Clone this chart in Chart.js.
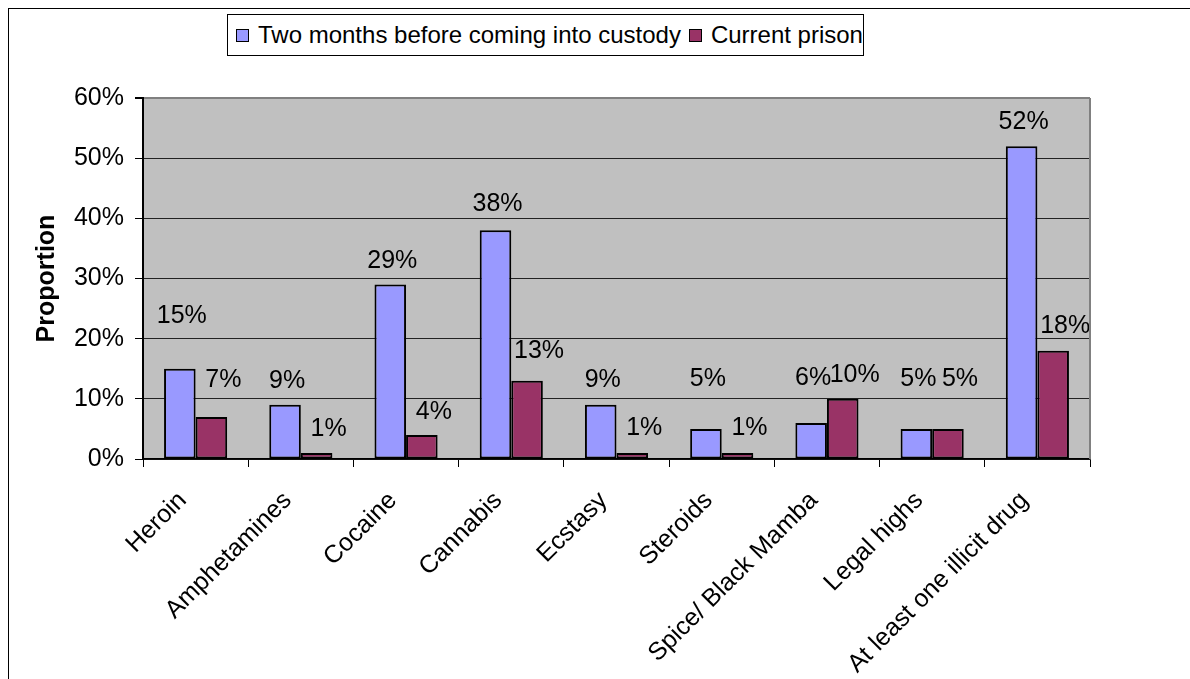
<!DOCTYPE html>
<html>
<head>
<meta charset="utf-8">
<script src="https://cdn.jsdelivr.net/npm/chart.js@4.4.1/dist/chart.umd.min.js"></script>
<style>
    html, body { margin: 0; padding: 0; background: #fff; }
    body { width: 1190px; height: 679px; position: relative; overflow: hidden; font-family: "Liberation Sans", Arial, sans-serif; }
    #frame { position: absolute; left: 8px; top: 8px; width: 1300px; height: 800px; border-left: 1px solid #000; border-top: 1px solid #000; pointer-events: none; }
    #chartWrap { position: absolute; left: 0; top: 0; width: 1190px; height: 679px; }
    #legend { position: absolute; left: 227px; top: 14px; width: 637px; height: 42px; border: 1px solid #000; background: #fff; box-sizing: border-box; display: flex; align-items: center; padding-left: 8px; font-size: 24px; color: #000; white-space: nowrap; }
    .legend-item { display: flex; align-items: center; margin-right: 8px; }
    .legend-box { width: 11px; height: 11px; border: 1px solid #000; margin-right: 9px; }
</style>
</head>
<body>
<div id="chartWrap"><canvas id="mainChart" width="1190" height="679"></canvas></div>
<div id="legend"></div>
<div id="frame"></div>
<script>
const categories = ['Heroin', 'Amphetamines', 'Cocaine', 'Cannabis', 'Ecstasy', 'Steroids', 'Spice/ Black Mamba', 'Legal highs', 'At least one illicit drug'];
const beforeCustody = [15, 9, 29, 38, 9, 5, 6, 5, 52];
const currentPrison = [7, 1, 4, 13, 1, 1, 10, 5, 18];
const yTicks = [0, 10, 20, 30, 40, 50, 60];

const FONT = '"Liberation Sans", Arial, sans-serif';

// value labels sit above each bar; Excel had some of them nudged by hand
const valueLabels = {
    id: 'valueLabels',
    afterDatasetsDraw(chart) {
        const ctx = chart.ctx;
        ctx.save();
        ctx.font = '25px ' + FONT;
        ctx.fillStyle = '#000';
        ctx.textAlign = 'center';
        ctx.textBaseline = 'middle';
        chart.data.datasets.forEach((ds, di) => {
            const meta = chart.getDatasetMeta(di);
            meta.data.forEach((bar, i) => {
                const lift = ds.labelLift ? ds.labelLift[i] : 24;
                ctx.fillText(ds.data[i] + '%', bar.x + (ds.labelShift || 0), bar.y - lift);
            });
        });
        ctx.restore();
    }
};

const plotBackground = {
    id: 'plotBackground',
    beforeDraw(chart) {
        const { ctx, chartArea: a } = chart;
        ctx.save();
        ctx.fillStyle = '#c0c0c0';
        ctx.fillRect(a.left, a.top, a.right - a.left, a.bottom - a.top);
        ctx.restore();
    },
    afterDraw(chart) {
        const { ctx, chartArea: a } = chart;
        ctx.save();
        ctx.strokeStyle = '#808080';
        ctx.lineWidth = 2;
        ctx.beginPath();
        ctx.moveTo(a.right, a.top);
        ctx.lineTo(a.right, a.bottom);
        ctx.stroke();
        ctx.restore();
    }
};

function buildLegend(chart) {
    const el = document.getElementById('legend');
    el.innerHTML = '';
    chart.data.datasets.forEach((ds) => {
        const item = document.createElement('div');
        item.className = 'legend-item';
        item.innerHTML = `<span class="legend-box" style="background:${ds.backgroundColor}"></span><span>${ds.label}</span>`;
        el.appendChild(item);
    });
}

const chart = new Chart(document.getElementById('mainChart'), {
    type: 'bar',
    data: {
        labels: categories,
        datasets: [
            {
                label: 'Two months before coming into custody',
                data: beforeCustody,
                backgroundColor: '#9999ff',
                borderColor: '#000',
                borderWidth: 2,
                borderSkipped: false,
                categoryPercentage: 0.6,
                barPercentage: 1.0,
                labelShift: 2,
                labelLift: [53, 24, 23, 26, 25, 50, 45, 50, 24]
            },
            {
                label: 'Current prison',
                data: currentPrison,
                backgroundColor: '#993366',
                borderColor: '#000',
                borderWidth: 2,
                borderSkipped: false,
                categoryPercentage: 0.6,
                barPercentage: 1.0,
                labelShift: 12,
                labelLift: [37, 24, 23, 30, 25, 25, 24, 50, 25]
            }
        ]
    },
    options: {
        responsive: false,
        animation: false,
        layout: { padding: { top: 98, right: 100, bottom: 0, left: 0 } },
        plugins: {
            legend: { display: false },
            tooltip: { enabled: false }
        },
        scales: {
            x: {
                offset: true,
                grid: { display: true, drawOnChartArea: false, offset: true, tickLength: 8, tickColor: '#000', lineWidth: 1 },
                border: { display: true, color: '#000', width: 1.5 },
                ticks: {
                    color: '#000',
                    font: { family: FONT, size: 25 },
                    minRotation: 45,
                    maxRotation: 45,
                    padding: 19,
                    labelOffset: -13,
                    autoSkip: false
                },
                afterFit(scale) { scale.height = 220; }
            },
            y: {
                min: 0,
                max: 60,
                afterBuildTicks(scale) { scale.ticks = yTicks.map((v) => ({ value: v })); },
                grid: {
                    color: (c) => (c.tick && c.tick.value === 60 ? '#808080' : '#222'),
                    lineWidth: (c) => (c.tick && c.tick.value === 60 ? 2 : 1),
                    tickColor: '#000',
                    tickLength: 8
                },
                border: { display: true, color: '#000', width: 2 },
                ticks: {
                    color: '#000',
                    font: { family: FONT, size: 25 },
                    padding: 11,
                    callback: (v) => v + '%'
                },
                title: {
                    display: true,
                    text: 'Proportion',
                    color: '#000',
                    font: { family: FONT, size: 25, weight: 'bold' },
                    padding: { top: 32, bottom: 0 }
                },
                afterFit(scale) { scale.width = 143; }
            }
        }
    },
    plugins: [plotBackground, valueLabels]
});

buildLegend(chart);
</script>
</body>
</html>
